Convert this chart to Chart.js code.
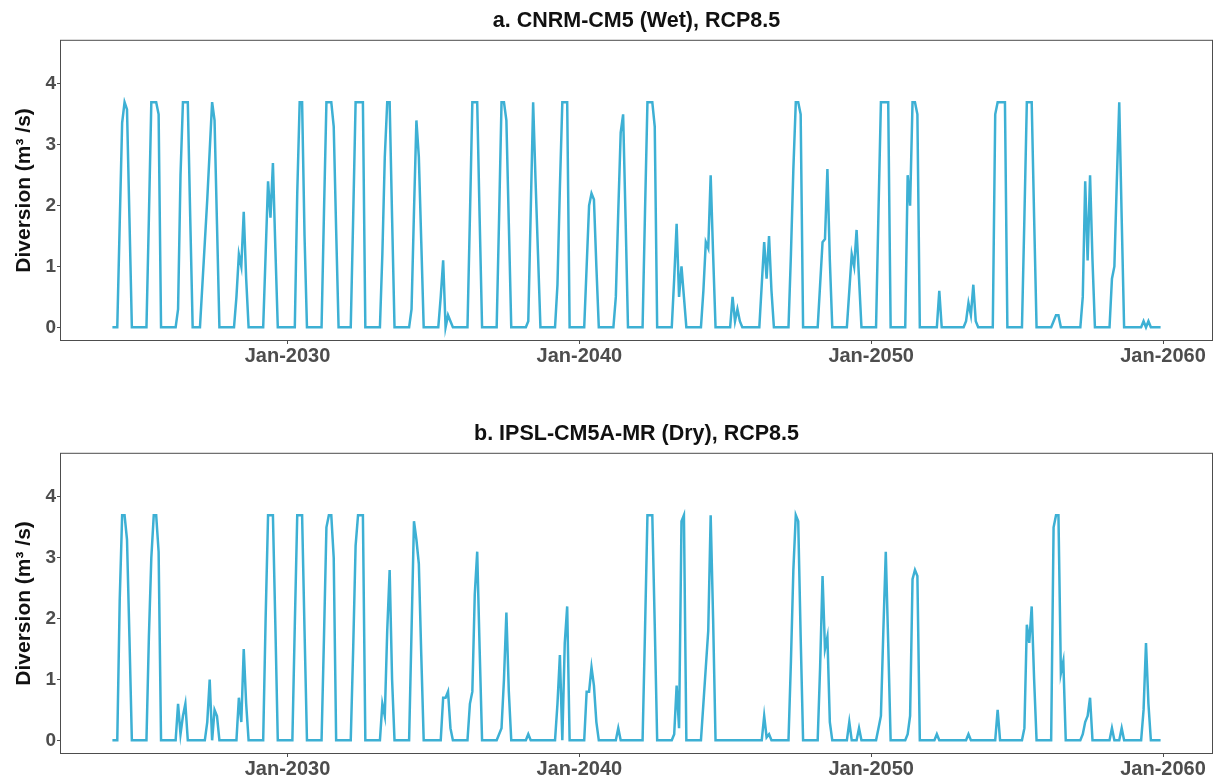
<!DOCTYPE html>
<html>
<head>
<meta charset="utf-8">
<title>Diversion under RCP8.5</title>
<script src="https://cdn.jsdelivr.net/npm/chart.js@4.4.1/dist/chart.umd.min.js"></script>
<style>
  html, body { margin: 0; padding: 0; background: #fff; overflow: hidden; }
  .panel { position: absolute; left: 0; width: 1215px; height: 380px; }
  #panelWet { top: 0; }
  #panelDry { top: 413px; }
</style>
</head>
<body>
<div class="panel" id="panelWet"><canvas id="wetChart" width="1215" height="380"></canvas></div>
<div class="panel" id="panelDry"><canvas id="dryChart" width="1215" height="380"></canvas></div>
<script>
// ─── Data (monthly diversion, m³/s, Jan 2024 – Dec 2059) ──────────────────────
const START_YEAR = 2024;
const TICK_YEARS = [2030, 2040, 2050, 2060];
const Y_TICKS = [0, 1, 2, 3, 4];

const PANEL_TITLES = ['a. CNRM-CM5 (Wet), RCP8.5', 'b. IPSL-CM5A-MR (Dry), RCP8.5'];
const Y_TITLE = 'Diversion (m³ /s)';

// one row per year, Jan..Dec
const wetDiversion = [
  0, 0, 0, 1.7, 3.36, 3.7, 3.58, 1.8, 0, 0, 0, 0,
  0, 0, 0, 1.8, 3.7, 3.7, 3.7, 3.5, 0, 0, 0, 0,
  0, 0, 0, 0.3, 2.5, 3.7, 3.7, 3.7, 1.8, 0, 0, 0,
  0, 0.7, 1.4, 2.1, 2.9, 3.7, 3.4, 1.7, 0, 0, 0, 0,
  0, 0, 0, 0.5, 1.2, 1.0, 1.9, 0.8, 0, 0, 0, 0,
  0, 0, 0, 1.2, 2.4, 1.8, 2.7, 1.3, 0, 0, 0, 0,
  0, 0, 0, 0, 2.2, 3.7, 3.7, 1.5, 0, 0, 0, 0,
  0, 0, 0, 1.9, 3.7, 3.7, 3.7, 3.3, 1.6, 0, 0, 0,
  0, 0, 0, 1.8, 3.7, 3.7, 3.7, 3.7, 0, 0, 0, 0,
  0, 0, 0, 1.2, 2.8, 3.7, 3.7, 1.8, 0, 0, 0, 0,
  0, 0, 0, 0.3, 1.9, 3.4, 2.8, 1.4, 0, 0, 0, 0,
  0, 0, 0, 0.5, 1.1, 0, 0.2, 0.1, 0, 0, 0, 0,
  0, 0, 0, 1.8, 3.7, 3.7, 3.7, 1.8, 0, 0, 0, 0,
  0, 0, 0, 1.8, 3.7, 3.7, 3.4, 1.7, 0, 0, 0, 0,
  0, 0, 0, 0.1, 1.9, 3.7, 2.4, 1.2, 0, 0, 0, 0,
  0, 0, 0, 0.7, 2.3, 3.7, 3.7, 3.7, 0, 0, 0, 0,
  0, 0, 0, 1.0, 2.0, 2.2, 2.1, 1.0, 0, 0, 0, 0,
  0, 0, 0, 0.5, 1.9, 3.2, 3.5, 1.8, 0, 0, 0, 0,
  0, 0, 0, 1.9, 3.7, 3.7, 3.7, 3.3, 0, 0, 0, 0,
  0, 0, 0, 0.8, 1.7, 0.5, 1.0, 0.5, 0, 0, 0, 0,
  0, 0, 0, 0.6, 1.4, 1.3, 2.5, 1.2, 0, 0, 0, 0,
  0, 0, 0, 0.5, 0.1, 0.3, 0.1, 0, 0, 0, 0, 0,
  0, 0, 0, 0.7, 1.4, 0.8, 1.5, 0.6, 0, 0, 0, 0,
  0, 0, 0, 1.2, 2.6, 3.7, 3.7, 3.5, 0, 0, 0, 0,
  0, 0, 0, 0.7, 1.4, 1.45, 2.6, 1.1, 0, 0, 0, 0,
  0, 0, 0, 0.6, 1.2, 1.0, 1.6, 0.8, 0, 0, 0, 0,
  0, 0, 0, 1.9, 3.7, 3.7, 3.7, 3.7, 0, 0, 0, 0,
  0, 0, 0, 2.5, 2.0, 3.7, 3.7, 3.5, 0, 0, 0, 0,
  0, 0, 0, 0, 0.6, 0, 0, 0, 0, 0, 0, 0,
  0, 0, 0, 0.1, 0.4, 0.2, 0.7, 0.1, 0, 0, 0, 0,
  0, 0, 0, 3.5, 3.7, 3.7, 3.7, 3.7, 0, 0, 0, 0,
  0, 0, 0, 1.8, 3.7, 3.7, 3.7, 1.8, 0, 0, 0, 0,
  0, 0, 0, 0.1, 0.2, 0.2, 0, 0, 0, 0, 0, 0,
  0, 0, 0, 0.5, 2.4, 1.1, 2.5, 1.1, 0, 0, 0, 0,
  0, 0, 0, 0.8, 1.0, 2.4, 3.7, 1.8, 0, 0, 0, 0,
  0, 0, 0, 0, 0.1, 0, 0.1, 0, 0, 0, 0, 0
];

const dryDiversion = [
  0, 0, 0, 2.3, 3.7, 3.7, 3.3, 1.7, 0, 0, 0, 0,
  0, 0, 0, 1.7, 3.0, 3.7, 3.7, 3.1, 0, 0, 0, 0,
  0, 0, 0, 0.6, 0.1, 0.4, 0.6, 0, 0, 0, 0, 0,
  0, 0, 0, 0.3, 1.0, 0, 0.5, 0.4, 0, 0, 0, 0,
  0, 0, 0, 0, 0.7, 0.3, 1.5, 0.6, 0, 0, 0, 0,
  0, 0, 0, 2.0, 3.7, 3.7, 3.7, 1.9, 0, 0, 0, 0,
  0, 0, 0, 1.9, 3.7, 3.7, 3.7, 1.8, 0, 0, 0, 0,
  0, 0, 0, 1.7, 3.5, 3.7, 3.7, 3.0, 0, 0, 0, 0,
  0, 0, 0, 1.5, 3.2, 3.7, 3.7, 3.7, 0, 0, 0, 0,
  0, 0, 0, 0.6, 0.4, 1.8, 2.8, 1.0, 0, 0, 0, 0,
  0, 0, 0, 1.8, 3.6, 3.3, 2.9, 1.4, 0, 0, 0, 0,
  0, 0, 0, 0, 0.7, 0.7, 0.8, 0.2, 0, 0, 0, 0,
  0, 0, 0, 0.6, 0.8, 2.4, 3.1, 1.5, 0, 0, 0, 0,
  0, 0, 0, 0.1, 0.2, 1.0, 2.1, 0.8, 0, 0, 0, 0,
  0, 0, 0, 0.1, 0, 0, 0, 0, 0, 0, 0, 0,
  0, 0, 0, 0.6, 1.4, 0, 1.6, 2.2, 0, 0, 0, 0,
  0, 0, 0, 0.8, 0.8, 1.2, 0.9, 0.3, 0, 0, 0, 0,
  0, 0, 0, 0, 0.2, 0, 0, 0, 0, 0, 0, 0,
  0, 0, 0, 1.8, 3.7, 3.7, 3.7, 1.9, 0, 0, 0, 0,
  0, 0, 0, 0.1, 0.9, 0.2, 3.6, 3.7, 0, 0, 0, 0,
  0, 0, 0, 0.6, 1.2, 1.8, 3.7, 2.0, 0, 0, 0, 0,
  0, 0, 0, 0, 0, 0, 0, 0, 0, 0, 0, 0,
  0, 0, 0, 0, 0.4, 0.05, 0.1, 0, 0, 0, 0, 0,
  0, 0, 0, 1.3, 2.8, 3.7, 3.6, 1.7, 0, 0, 0, 0,
  0, 0, 0, 1.2, 2.7, 1.5, 1.7, 0.3, 0, 0, 0, 0,
  0, 0, 0, 0.3, 0, 0, 0, 0.2, 0, 0, 0, 0,
  0, 0, 0, 0.2, 0.4, 1.8, 3.1, 1.6, 0, 0, 0, 0,
  0, 0, 0, 0.1, 0.4, 2.65, 2.8, 2.7, 0, 0, 0, 0,
  0, 0, 0, 0.1, 0, 0, 0, 0, 0, 0, 0, 0,
  0, 0, 0, 0, 0.1, 0, 0, 0, 0, 0, 0, 0,
  0, 0, 0, 0, 0.5, 0, 0, 0, 0, 0, 0, 0,
  0, 0, 0, 0.2, 1.9, 1.6, 2.2, 1.0, 0, 0, 0, 0,
  0, 0, 0, 3.5, 3.7, 3.7, 1.1, 1.3, 0, 0, 0, 0,
  0, 0, 0, 0.1, 0.3, 0.4, 0.7, 0, 0, 0, 0, 0,
  0, 0, 0, 0.2, 0, 0, 0, 0.2, 0, 0, 0, 0,
  0, 0, 0, 0, 0.5, 1.6, 0.6, 0, 0, 0, 0, 0
];

// ─── Style ─────────────────────────────────────────────────────────────────────
const LINE_COLOR = '#3db0d4';
const TEXT_DARK = '#111111';
const TEXT_GREY = '#4d4d4d';
const FRAME = '#4d4d4d';

Chart.defaults.font.family = '"Liberation Sans", Arial, sans-serif';

// x axis runs in months from Jan of START_YEAR, padded 5% each side
const lastMonth = wetDiversion.length - 1;
const X_PAD = lastMonth * 0.05;

// ─── Panel frame ───────────────────────────────────────────────────────────────
const panelBorder = {
  id: 'panelBorder',
  afterDatasetsDraw(chart) {
    const { ctx, chartArea: a } = chart;
    ctx.save();
    ctx.strokeStyle = FRAME;
    ctx.lineWidth = 1;
    ctx.strokeRect(a.left + 0.5, a.top + 0.5, a.width - 1, a.height - 1);
    ctx.restore();
  }
};

function buildChart(canvasId, title, values) {
  return new Chart(document.getElementById(canvasId), {
    type: 'line',
    data: {
      datasets: [{
        data: values.map((v, i) => ({ x: i, y: v })),
        borderColor: LINE_COLOR,
        borderWidth: 2.5,
        pointRadius: 0,
        tension: 0,
        fill: false
      }]
    },
    options: {
      responsive: false,
      animation: false,
      layout: { padding: { left: 0, right: 2, top: 0, bottom: 0 } },
      plugins: {
        legend: { display: false },
        tooltip: { enabled: false },
        title: {
          display: true,
          fullSize: false,
          text: title,
          color: TEXT_DARK,
          font: { size: 21.5, weight: 'bold' },
          padding: { top: 8, bottom: 6 }
        }
      },
      scales: {
        x: {
          type: 'linear',
          min: -X_PAD,
          max: lastMonth + X_PAD,
          afterBuildTicks: s => { s.ticks = TICK_YEARS.map(y => ({ value: (y - START_YEAR) * 12 })); },
          afterFit: s => { s.height = 39; },
          ticks: {
            callback: v => 'Jan-' + (START_YEAR + v / 12),
            color: TEXT_GREY,
            font: { size: 20, weight: 'bold' },
            padding: 0,
            autoSkip: false,
            maxRotation: 0
          },
          grid: { drawOnChartArea: false, tickLength: 3, color: FRAME },
          border: { display: false }
        },
        y: {
          min: -0.225,
          max: 4.725,
          afterBuildTicks: s => { s.ticks = Y_TICKS.map(v => ({ value: v })); },
          afterFit: s => { s.width = 60; },
          ticks: {
            color: TEXT_GREY,
            font: { size: 19, weight: 'bold' },
            padding: 1
          },
          grid: { drawOnChartArea: false, tickLength: 3, color: FRAME },
          border: { display: false },
          title: {
            display: true,
            text: Y_TITLE,
            color: TEXT_DARK,
            font: { size: 21, weight: 'bold' },
            padding: { top: 12, bottom: 0 }
          }
        }
      }
    },
    plugins: [panelBorder]
  });
}

buildChart('wetChart', PANEL_TITLES[0], wetDiversion);
buildChart('dryChart', PANEL_TITLES[1], dryDiversion);
</script>
</body>
</html>
